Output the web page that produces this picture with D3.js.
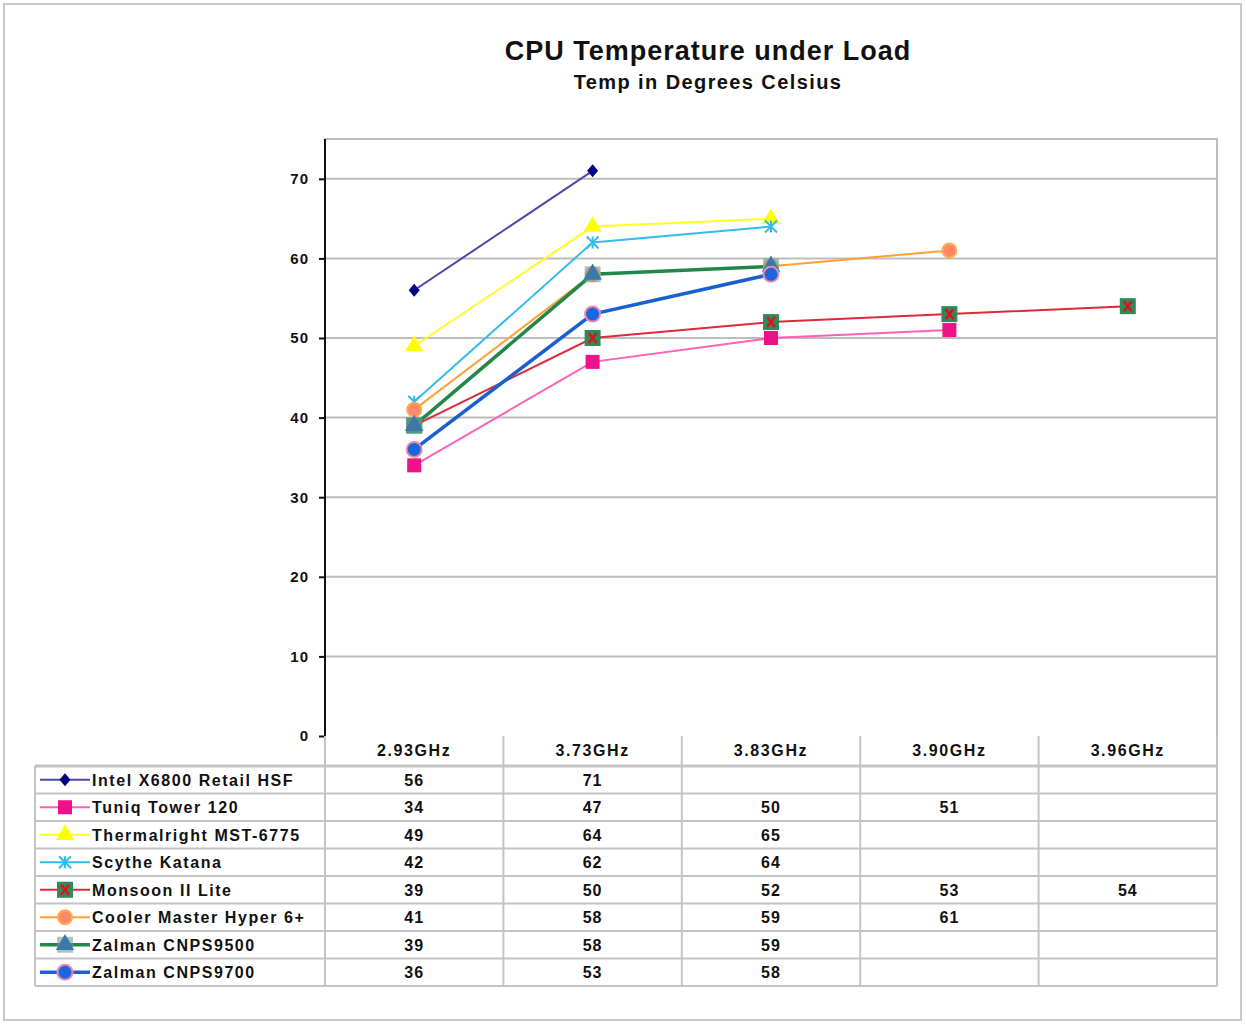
<!DOCTYPE html>
<html>
<head>
<meta charset="utf-8">
<script src="https://cdn.jsdelivr.net/npm/d3@7"></script>
<style>
  body { margin: 0; background: #fff; }
  text { font-family: "Liberation Sans", Arial, sans-serif; font-weight: bold; fill: #111; }
</style>
</head>
<body>
<svg id="chart" width="1246" height="1024"></svg>
<script>
// categories (clock speed)
const categories = ["2.93GHz", "3.73GHz", "3.83GHz", "3.90GHz", "3.96GHz"];

// one array per cooler, null = not tested
const seriesNames = [
	"Intel X6800 Retail HSF",
	"Tuniq Tower 120",
	"Thermalright MST-6775",
	"Scythe Katana",
	"Monsoon II Lite",
	"Cooler Master Hyper 6+",
	"Zalman CNPS9500",
	"Zalman CNPS9700"
];
const intelX6800   = [56, 71, null, null, null];
const tuniqTower   = [34, 47, 50, 51, null];
const thermalright = [49, 64, 65, null, null];
const scytheKatana = [42, 62, 64, null, null];
const monsoonLite  = [39, 50, 52, 53, 54];
const coolerMaster = [41, 58, 59, 61, null];
const zalman9500   = [39, 58, 59, null, null];
const zalman9700   = [36, 53, 58, null, null];
const seriesValues = [intelX6800, tuniqTower, thermalright, scytheKatana, monsoonLite, coolerMaster, zalman9500, zalman9700];

const yTicks = [0, 10, 20, 30, 40, 50, 60, 70];

// styles per series
const styles = [
	{ line: "#4a4aa8", width: 2, marker: "diamond", fill: "#000080", stroke: "#000080" },
	{ line: "#ff5fb4", width: 2, marker: "square", fill: "#ee1188", stroke: "#ee1188" },
	{ line: "#ffff22", width: 2, marker: "triangle", fill: "#ffff00", stroke: "#eeee00" },
	{ line: "#33bbee", width: 2, marker: "cross", fill: "none", stroke: "#33bbee" },
	{ line: "#dd2a3a", width: 2, marker: "squarex", fill: "#2e8b57", stroke: "#2e8b57" },
	{ line: "#ffa033", width: 2, marker: "circle", fill: "#ff8866", stroke: "#ffaa55" },
	{ line: "#22884a", width: 3.5, marker: "triangle2", fill: "#3a7aa8", stroke: "#3a9a7a" },
	{ line: "#1a5fd0", width: 3.5, marker: "circle2", fill: "#1a66dd", stroke: "#ee88aa" }
];

const plot = { left: 325, right: 1217, top: 139, bottom: 736 };
const table = { left: 35, headerBottom: 766, rowH: 27.5 };

const svg = d3.select("#chart");

// outer frame
svg.append("rect")
	.attr("x", 4).attr("y", 4).attr("width", 1237).attr("height", 1016)
	.attr("fill", "none").attr("stroke", "#c8c8c8").attr("stroke-width", 2);

// titles
svg.append("text").attr("x", 708).attr("y", 60).attr("text-anchor", "middle")
	.attr("font-size", 27).attr("letter-spacing", 1).text("CPU Temperature under Load");
svg.append("text").attr("x", 708).attr("y", 89).attr("text-anchor", "middle")
	.attr("font-size", 20).attr("letter-spacing", 1.4).text("Temp in Degrees Celsius");

const x = d3.scaleBand().domain(categories).range([plot.left, plot.right]);
const y = d3.scaleLinear().domain([0, 75]).range([plot.bottom, plot.top]);

// gridlines
svg.append("g").selectAll("line").data(yTicks.filter(d => d > 0)).join("line")
	.attr("x1", plot.left).attr("x2", plot.right)
	.attr("y1", d => y(d)).attr("y2", d => y(d))
	.attr("stroke", "#bdbdbd").attr("stroke-width", 2);

// plot frame (top + right)
svg.append("path")
	.attr("d", `M${plot.left},${plot.top}H${plot.right}V${plot.bottom}`)
	.attr("fill", "none").attr("stroke", "#bdbdbd").attr("stroke-width", 2);

// y axis
const yAxis = svg.append("g")
	.attr("transform", `translate(${plot.left},0)`)
	.call(d3.axisLeft(y).tickValues(yTicks).tickSize(6).tickPadding(10));
yAxis.select(".domain").attr("stroke", "#111").attr("stroke-width", 2)
	.attr("d", `M0,${plot.top}V${plot.bottom}`);
yAxis.selectAll(".tick line").attr("stroke", "#111").attr("stroke-width", 2);
yAxis.selectAll(".tick text").attr("font-size", 15).attr("font-family", "Liberation Sans, Arial, sans-serif")
	.attr("font-weight", "bold").attr("fill", "#111").attr("letter-spacing", 1);

// marker drawing
function drawMarker(g, type, s) {
	const sym = (t, size) => d3.symbol().type(t).size(size)();
	if (type === "diamond") {
		g.append("path").attr("d", "M0,-6.5L5.5,0L0,6.5L-5.5,0Z").attr("fill", s.fill);
	} else if (type === "square") {
		g.append("rect").attr("x", -7).attr("y", -7).attr("width", 14).attr("height", 14).attr("fill", s.fill);
	} else if (type === "triangle") {
		g.append("path").attr("d", sym(d3.symbolTriangle, 140)).attr("fill", s.fill);
	} else if (type === "cross") {
		g.append("path").attr("d", "M-6,-6L6,6M-6,6L6,-6M0,-6V6").attr("stroke", s.stroke)
			.attr("stroke-width", 2).attr("fill", "none");
	} else if (type === "squarex") {
		g.append("rect").attr("x", -8).attr("y", -8).attr("width", 16).attr("height", 16).attr("fill", s.fill);
		g.append("path").attr("d", "M-4,-5L4,5M-4,5L4,-5").attr("stroke", "#e01020").attr("stroke-width", 2.5);
	} else if (type === "circle") {
		g.append("circle").attr("r", 7).attr("fill", s.fill).attr("stroke", s.stroke).attr("stroke-width", 2);
	} else if (type === "triangle2") {
		g.append("rect").attr("x", -8).attr("y", -8).attr("width", 16).attr("height", 16).attr("fill", "#6f9f9a").attr("opacity", 0.6);
		g.append("path").attr("d", sym(d3.symbolTriangle, 150)).attr("fill", s.fill);
	} else if (type === "circle2") {
		g.append("circle").attr("r", 7.5).attr("fill", s.fill).attr("stroke", s.stroke).attr("stroke-width", 2);
	}
}

// lines and markers
const line = d3.line()
	.defined(d => d.v !== null)
	.x(d => x(d.c) + x.bandwidth() / 2)
	.y(d => y(d.v));

const seriesG = svg.append("g");
seriesValues.forEach((vals, i) => {
	const pts = vals.map((v, j) => ({ c: categories[j], v }));
	seriesG.append("path").datum(pts)
		.attr("d", line).attr("fill", "none")
		.attr("stroke", styles[i].line).attr("stroke-width", styles[i].width);
});
seriesValues.forEach((vals, i) => {
	vals.forEach((v, j) => {
		if (v === null) return;
		const g = seriesG.append("g")
			.attr("transform", `translate(${x(categories[j]) + x.bandwidth() / 2},${y(v)})`);
		drawMarker(g, styles[i].marker, styles[i]);
	});
});

// data table
const tg = svg.append("g");
const tableBottom = table.headerBottom + table.rowH * seriesNames.length;
const gridStroke = "#c4c4c4";

// header cells: vertical lines at band edges
categories.forEach(c => {
	tg.append("line").attr("x1", x(c)).attr("x2", x(c))
		.attr("y1", plot.bottom).attr("y2", tableBottom)
		.attr("stroke", gridStroke).attr("stroke-width", 2);
	tg.append("text").attr("x", x(c) + x.bandwidth() / 2).attr("y", plot.bottom + 20)
		.attr("text-anchor", "middle").attr("font-size", 16).attr("letter-spacing", 1.6).text(c);
});
// right edge
tg.append("line").attr("x1", plot.right).attr("x2", plot.right)
	.attr("y1", plot.bottom).attr("y2", tableBottom)
	.attr("stroke", gridStroke).attr("stroke-width", 2);
// left edge of legend column
tg.append("line").attr("x1", table.left).attr("x2", table.left)
	.attr("y1", table.headerBottom).attr("y2", tableBottom)
	.attr("stroke", gridStroke).attr("stroke-width", 2);

// horizontal row lines
d3.range(seriesNames.length + 1).forEach(k => {
	const yy = table.headerBottom + k * table.rowH;
	tg.append("line").attr("x1", table.left).attr("x2", plot.right)
		.attr("y1", yy).attr("y2", yy)
		.attr("stroke", gridStroke).attr("stroke-width", k === 0 ? 3 : 2);
});

// rows
seriesNames.forEach((name, i) => {
	const cy = table.headerBottom + i * table.rowH + table.rowH / 2;
	const lg = tg.append("g");
	lg.append("line").attr("x1", 40).attr("x2", 90).attr("y1", cy).attr("y2", cy)
		.attr("stroke", styles[i].line).attr("stroke-width", styles[i].width);
	drawMarker(lg.append("g").attr("transform", `translate(65,${cy})`), styles[i].marker, styles[i]);
	tg.append("text").attr("x", 92).attr("y", cy + 6).attr("font-size", 16)
		.attr("letter-spacing", 1.55).text(name);
	seriesValues[i].forEach((v, j) => {
		if (v === null) return;
		tg.append("text").attr("x", x(categories[j]) + x.bandwidth() / 2).attr("y", cy + 6)
			.attr("text-anchor", "middle").attr("font-size", 16).attr("letter-spacing", 1).text(v);
	});
});
</script>
</body>
</html>
